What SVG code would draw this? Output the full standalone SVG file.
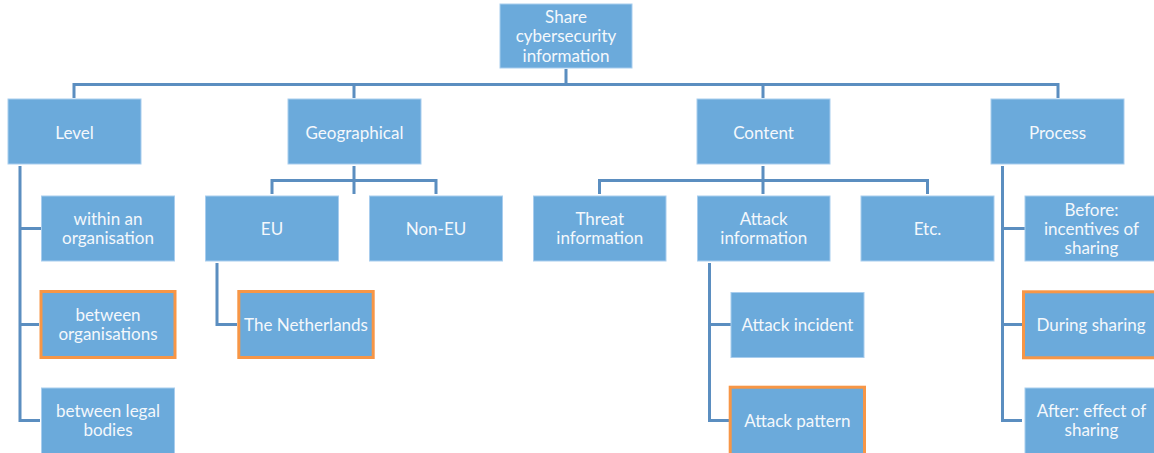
<svg xmlns="http://www.w3.org/2000/svg" width="1154" height="453" viewBox="0 0 1154 453">
<style>
.box{fill:#6baadb;stroke:#a8cdee;stroke-width:1}
.hl{fill:#6baadb;stroke:#f79646;stroke-width:3}
.t{font-family:Lato,"Open Sans",sans-serif;font-size:17px;fill:#f4f8fc;text-anchor:middle}
.c{fill:none;stroke:#5b8ec0;stroke-width:3;stroke-linejoin:miter}
</style>
<rect width="1154" height="453" fill="#ffffff"/>
<g id="connectors" class="c">
<path d="M566,69 V84.5 M74,98 V84.5 H1058 V98 M354,84.5 V98 M763,84.5 V98"/>
<path d="M20,166 V420.5 H40 M20,228.5 H41 M20,324.5 H39"/>
<path d="M354,166 V194 M272,194 V180.5 H436 V194"/>
<path d="M217,263 V324.5 H237"/>
<path d="M763,166 V194 M599.5,194 V180.5 H927.5 V194"/>
<path d="M709.5,263 V420.5 H729 M709.5,324.5 H731"/>
<path d="M1002.5,166 V420.5 H1022 M1002.5,228.5 H1025 M1002.5,324.5 H1022"/>
</g>
<g id="root"><rect class="box" x="500" y="4" width="132" height="64"/><text class="t" x="566" y="22.5">Share</text><text class="t" x="566" y="42">cybersecurity</text><text class="t" x="566" y="61.5">information</text></g>
<g id="level"><rect class="box" x="8" y="99" width="133" height="65"/><text class="t" x="74.5" y="138.5">Level</text></g>
<g id="geographical"><rect class="box" x="288" y="99" width="133" height="65"/><text class="t" x="354.5" y="138.5">Geographical</text></g>
<g id="content"><rect class="box" x="697" y="99" width="133" height="65"/><text class="t" x="763.5" y="138.5">Content</text></g>
<g id="process"><rect class="box" x="991" y="99" width="133" height="65"/><text class="t" x="1057.5" y="138.5">Process</text></g>
<g id="within"><rect class="box" x="41.5" y="196" width="133" height="65"/><text class="t" x="108" y="224.75">within an</text><text class="t" x="108" y="244.25">organisation</text></g>
<g id="between-org"><rect class="hl" x="41" y="291.5" width="134" height="66"/><text class="t" x="108" y="320.75">between</text><text class="t" x="108" y="340.25">organisations</text></g>
<g id="between-legal"><rect class="box" x="41.5" y="388" width="133" height="66"/><text class="t" x="108" y="416.75">between legal</text><text class="t" x="108" y="436.25">bodies</text></g>
<g id="eu"><rect class="box" x="205.5" y="196" width="133" height="65"/><text class="t" x="272" y="235">EU</text></g>
<g id="non-eu"><rect class="box" x="369.5" y="196" width="133" height="65"/><text class="t" x="436" y="235">Non-EU</text></g>
<g id="netherlands"><rect class="hl" x="238.8" y="291.5" width="134.4" height="66"/><text class="t" x="306" y="331">The Netherlands</text></g>
<g id="threat"><rect class="box" x="533.5" y="196" width="132.5" height="65"/><text class="t" x="599.75" y="224.75">Threat</text><text class="t" x="599.75" y="244.25">information</text></g>
<g id="attack-info"><rect class="box" x="697.5" y="196" width="132.5" height="65"/><text class="t" x="763.75" y="224.75">Attack</text><text class="t" x="763.75" y="244.25">information</text></g>
<g id="etc"><rect class="box" x="861" y="196" width="133" height="65"/><text class="t" x="927.5" y="235">Etc.</text></g>
<g id="attack-incident"><rect class="box" x="731" y="292.5" width="133" height="65"/><text class="t" x="797.5" y="331">Attack incident</text></g>
<g id="attack-pattern"><rect class="hl" x="730.2" y="387.2" width="134.3" height="68"/><text class="t" x="797.3" y="427">Attack pattern</text></g>
<g id="before"><rect class="box" x="1025" y="196" width="133" height="65"/><text class="t" x="1091.5" y="215.5">Before:</text><text class="t" x="1091.5" y="234.5">incentives of</text><text class="t" x="1091.5" y="253.5">sharing</text></g>
<g id="during"><rect class="hl" x="1023.5" y="291.8" width="134" height="66"/><text class="t" x="1091" y="331">During sharing</text></g>
<g id="after"><rect class="box" x="1025" y="388" width="133" height="66"/><text class="t" x="1091.5" y="416.75">After: effect of</text><text class="t" x="1091.5" y="436.25">sharing</text></g>
</svg>
